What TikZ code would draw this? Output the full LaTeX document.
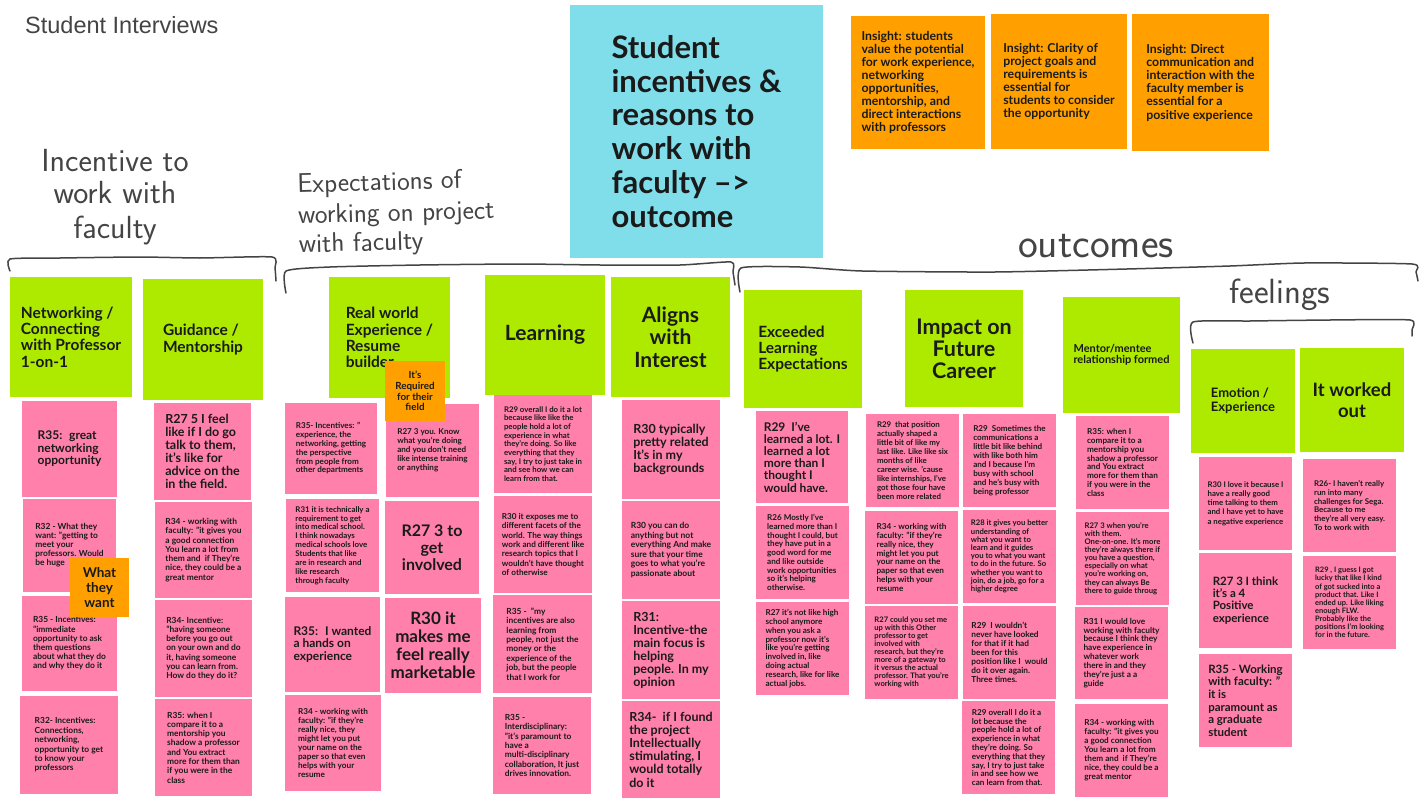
\documentclass[tikz,border=0pt]{standalone}
\usepackage{fontspec}
\setmainfont{Lato}
\newfontfamily\arialf{Liberation Sans}
\usetikzlibrary{calc}
\definecolor{pinkc}{HTML}{FF80AB}
\definecolor{limec}{HTML}{AEEA00}
\definecolor{orangec}{HTML}{FFA000}
\definecolor{cyanc}{HTML}{80DEEA}
\definecolor{inkc}{HTML}{1A1A1A}
\definecolor{handc}{HTML}{444444}
\newcommand\fz[2]{\fontsize{#1}{#2}\selectfont\bfseries}
\newcommand\hw[1]{\fontsize{#1}{#1}\selectfont\sffamily}
% \card{style}{name}{corner1}{corner2}{font}{text}
\newcommand\card[6]{%
  \path let \p1=(#3), \p2=(#4) in
    node[#1, font=#5, minimum width={\x2-\x1}, minimum height={\y1-\y2}] (#2) at ($(#3)!0.5!(#4)$) {#6};}
\begin{document}
\begin{tikzpicture}[x=1pt,y=-1pt,
  cardbox/.style={inner sep=0pt, align=left, text=inkc, anchor=center},
  pk/.style={cardbox, fill=pinkc},
  gr/.style={cardbox, fill=limec},
  og/.style={cardbox, fill=orangec},
  cy/.style={cardbox, fill=cyanc},
  ctr/.style={align=center},
  bracket/.style={draw=handc, line width=1.5pt, line cap=round, line join=round},
  handtext/.style={text=handc, inner sep=0pt, align=center}]
\useasboundingbox (0,0) rectangle (1422,800);
\fill[white] (0,0) rectangle (1422,800);

% ---------- page title ----------
\node[anchor=base west, inner sep=0pt, text=handc, font=\arialf\fontsize{23.5}{25}\selectfont] (pagetitle) at (25,34) {Student Interviews};

% ---------- central title ----------
\card{cy}{title}{570,5}{823,258}{\fz{31}{33.8}}{Student\\incentives \&\\reasons to\\work with\\faculty –>\\outcome}

% ---------- insights ----------
\card{og}{ins1}{851,16}{985,149}{\fz{12.3}{12.9}}{Insight: students\\value the potential\\for work experience,\\networking\\opportunities,\\mentorship, and\\direct interactions\\with professors}
\card{og}{ins2}{991,14}{1127,149}{\fz{12.3}{13}}{Insight: Clarity of\\project goals and\\requirements is\\essential for\\students to consider\\the opportunity}
\card{og}{ins3}{1132,14}{1269,151}{\fz{12.3}{13.2}}{Insight: Direct\\communication and\\interaction with the\\faculty member is\\essential for a\\positive experience}

% ---------- hand-written labels ----------
\node[handtext, font=\hw{32}] (lab1) at (115,197) {Incentive to\\work with\\[3pt]faculty};
\node[handtext, align=left, font=\hw{27}, rotate=1.5, anchor=west] (lab2) at (298,216) {Expectations of\\[4pt]working on project\\[2pt]with faculty};
\node[handtext, font=\hw{42}, anchor=base] (lab3) at (1096,257) {outcomes};
\node[handtext, font=\hw{35}, anchor=base] (lab4) at (1280,303) {feelings};

% ---------- brackets ----------
\draw[bracket] plot[smooth, tension=0.35] coordinates {(10,271) (10,259) (60,258) (140,257) (200,258) (272,257) (275,268) (276,281)};
\draw[bracket] plot[smooth, tension=0.35] coordinates {(286,293) (286,271) (330,267) (420,265) (520,264) (600,265) (680,265) (731,262) (733,272) (735,285)};
\draw[bracket] plot[smooth, tension=0.35] coordinates {(740,292) (741,268) (800,267) (862,271) (995,272) (1127,269) (1230,266) (1304,263) (1412,264) (1416,272) (1418,281)};
\draw[bracket] plot[smooth, tension=0.35] coordinates {(1193,343) (1193,322) (1250,321) (1330,320) (1410,320) (1412,330) (1412,336)};

% ---------- green headers ----------
\card{gr}{h1}{10,277}{132,397}{\fz{15.5}{16.3}}{Networking /\\Connecting\\with Professor\\1-on-1}
\card{gr}{h2}{143,279}{263,400}{\fz{15.5}{16.3}}{Guidance /\\Mentorship}
\card{gr}{h3}{329,277}{450,398}{\fz{15.5}{16.3}}{Real world\\Experience /\\Resume\\builder}
\card{gr,ctr}{h4}{485,275}{605,395}{\fz{21}{22}}{Learning}
\card{gr,ctr}{h5}{611,277}{730,397}{\fz{21}{22.5}}{Aligns\\with\\Interest}
\card{gr}{h6}{744,290}{862,408}{\fz{15.5}{16.3}}{Exceeded\\Learning\\Expectations}
\card{gr,ctr}{h7}{905,290}{1023,407}{\fz{21.5}{22}}{Impact on\\Future\\Career}
\card{gr}{h8}{1063,297}{1180,413}{\fz{11}{11.5}}{Mentor/mentee\\relationship formed}
\card{gr}{h9}{1191,349}{1295,453}{\fz{13}{14.5}}{Emotion /\\Experience}
\card{gr,ctr}{h10}{1300,348}{1404,452}{\fz{18.5}{20.5}}{It worked\\out}

% ---------- column 1 ----------
\card{pk}{c1a}{22,401}{117,497}{\fz{12}{12.5}}{R35:~ great\\networking\\opportunity}
\card{pk}{c1b}{23,499}{116,592}{\fz{8.4}{9}}{R32 - What they\\want: "getting to\\meet your\\professors. Would\\be huge}
\card{pk}{c1c}{22,596}{117,691}{\fz{8.4}{9.2}}{R35 - Incentives:\\"immediate\\opportunity to ask\\them questions\\about what they do\\and why they do it}
\card{pk}{c1d}{20,696}{118,794}{\fz{8.4}{9.4}}{R32- Incentives:\\Connections,\\networking,\\opportunity to get\\to know your\\professors}
\card{og,ctr}{o1}{70,558}{129,617}{\fz{13.5}{15}}{What\\they\\want}

% ---------- column 2 ----------
\card{pk}{c2a}{154,403}{251,500}{\fz{12.5}{13}}{R27 5 I feel\\like if I do go\\talk to them,\\it's like for\\advice on the\\in the field.}
\card{pk}{c2b}{155,502}{252,598}{\fz{8.4}{9.3}}{R34 - working with\\faculty: "it gives you\\a good connection\\You learn a lot from\\them and~ if They're\\nice, they could be a\\great mentor}
\card{pk}{c2c}{155,600}{252,697}{\fz{8.4}{9.3}}{R34- Incentive:\\"having someone\\before you go out\\on your own and do\\it, having someone\\you can learn from.\\How do they do it?}
\card{pk}{c2d}{155,699}{252,796}{\fz{8.4}{9.3}}{R35: when I\\compare it to a\\mentorship you\\shadow a professor\\and You extract\\more for them than\\if you were in the\\class}

% ---------- column 3 ----------
\card{pk}{c3a}{285,403}{377,494}{\fz{8.1}{8.8}}{R35- Incentives: "\\experience, the\\networking, getting\\the perspective\\from people from\\other departments}
\card{pk}{c3b}{286,499}{379,592}{\fz{7.9}{8.9}}{R31 it is technically a\\requirement to get\\into medical school.\\I think nowadays\\medical schools love\\Students that like\\are in research and\\like research\\through faculty}
\card{pk}{c3c}{285,597}{380,692}{\fz{12}{12.5}}{R35:~ I wanted\\a hands on\\experience}
\card{pk}{c3d}{285,695}{381,791}{\fz{8.2}{9.1}}{R34 - working with\\faculty: "if they're\\really nice, they\\might let you put\\your name on the\\paper so that even\\helps with your\\resume}

% ---------- column 4 ----------
\card{pk}{c4a}{386,404}{479,497}{\fz{8.1}{9}}{R27 3 you. Know\\what you're doing\\and you don't need\\like intense training\\or anything}
\card{pk,ctr}{c4b}{385,501}{479,594}{\fz{16}{17}}{R27 3 to\\get\\involved}
\card{pk,ctr}{c4c}{385,598}{481,693}{\fz{17}{18}}{R30 it\\makes me\\feel really\\marketable}
\card{og,ctr}{o2}{385,361}{445,421}{\fz{9.8}{10.7}}{It's\\Required\\for their\\field}

% ---------- column 5 ----------
\card{pk}{c5a}{494,395}{592,493}{\fz{7.8}{8.7}}{R29 overall I do it a lot\\because like like the\\people hold a lot of\\experience in what\\they're doing. So like\\everything that they\\say, I try to just take in\\and see how we can\\learn from that.}
\card{pk}{c5b}{494,496}{592,593}{\fz{8.2}{9.3}}{R30 it exposes me to\\different facets of the\\world. The way things\\work and different like\\research topics that I\\wouldn't have thought\\of otherwise}
\card{pk}{c5c}{493,595}{592,693}{\fz{8.4}{9.4}}{R35 -~ "my\\incentives are also\\learning from\\people, not just the\\money or the\\experience of the\\job, but the people\\that I work for}
\card{pk}{c5d}{493,697}{591,794}{\fz{8.4}{9.3}}{R35 -\\Interdisciplinary:\\"it's paramount to\\have a\\multi-disciplinary\\collaboration, It just\\drives innovation.}

% ---------- column 6 ----------
\card{pk}{c6a}{622,400}{720,499}{\fz{12.5}{13.3}}{R30 typically\\pretty related\\It's in my\\backgrounds}
\card{pk}{c6b}{622,501}{720,599}{\fz{8.5}{9.5}}{R30 you can do\\anything but not\\everything And make\\sure that your time\\goes to what you're\\passionate about}
\card{pk}{c6c}{622,601}{720,699}{\fz{12.5}{13}}{R31:\\Incentive-the\\main focus is\\helping\\people. In my\\opinion}
\card{pk}{c6d}{622,701}{720,798}{\fz{12.5}{13.2}}{R34-~ if I found\\the project\\Intellectually\\stimulating, I\\would totally\\do it}

% ---------- column 7 ----------
\card{pk}{c7a}{756,411}{848,503}{\fz{12}{12.2}}{R29~ I've\\learned a lot. I\\learned a lot\\more than I\\thought I\\would have.}
\card{pk}{c7b}{756,506}{849,599}{\fz{8.1}{8.75}}{R26 Mostly I've\\learned more than I\\thought I could, but\\they have put in a\\good word for me\\and like outside\\work opportunities\\so it's helping\\otherwise.}
\card{pk}{c7c}{756,602}{849,695}{\fz{8.1}{8.9}}{R27 it's not like high\\school anymore\\when you ask a\\professor now it's\\like you're getting\\involved in, like\\doing actual\\research, like for like\\actual jobs.}

% ---------- column 8 ----------
\card{pk}{c8a}{866,414}{959,507}{\fz{7.9}{9}}{R29~ that position\\actually shaped a\\little bit of like my\\last like. Like like six\\months of like\\career wise. 'cause\\like internships, I've\\got those four have\\been more related}
\card{pk}{c8b}{865,511}{958,604}{\fz{8.2}{8.8}}{R34 - working with\\faculty: "if they're\\really nice, they\\might let you put\\your name on the\\paper so that even\\helps with your\\resume}
\card{pk}{c8c}{865,606}{958,699}{\fz{7.6}{8}}{R27 could you set me\\up with this Other\\professor to get\\involved with\\research, but they're\\more of a gateway to\\it versus the actual\\professor. That you're\\working with}

% ---------- column 9 ----------
\card{pk}{c9a}{963,414}{1056,507}{\fz{8.1}{9}}{R29~ Sometimes the\\communications a\\little bit like behind\\with like both him\\and I because I'm\\busy with school\\and he's busy with\\being professor}
\card{pk}{c9b}{963,510}{1056,603}{\fz{7.7}{8.2}}{R28 it gives you better\\understanding of\\what you want to\\learn and it guides\\you to what you want\\to do in the future. So\\whether you want to\\join, do a job, go for a\\higher degree}
\card{pk}{c9c}{963,606}{1056,699}{\fz{8.3}{9}}{R29~ I wouldn't\\never have looked\\for that if it had\\been for this\\position like I~ would\\do it over again.\\Three times.}
\card{pk}{c9d}{962,701}{1055,794}{\fz{8.1}{8.8}}{R29 overall I do it a\\lot because the\\people hold a lot of\\experience in what\\they're doing. So\\everything that they\\say, I try to just take\\in and see how we\\can learn from that.}

% ---------- column 10 ----------
\card{pk}{c10a}{1076,416}{1169,509}{\fz{8.2}{8.8}}{R35: when I\\compare it to a\\mentorship you\\shadow a professor\\and You extract\\more for them than\\if you were in the\\class}
\card{pk}{c10b}{1076,512}{1169,605}{\fz{7.7}{8.1}}{R27 3 when you're\\with them.\\One-on-one. It's more\\they're always there if\\you have a question,\\especially on what\\you're working on,\\they can always Be\\there to guide throug}
\card{pk}{c10c}{1075,607}{1168,699}{\fz{8.3}{8.9}}{R31 I would love\\working with faculty\\because I think they\\have experience in\\whatever work\\there in and they\\they're just a a\\guide}
\card{pk}{c10d}{1075,704}{1168,797}{\fz{8.2}{9}}{R34 - working with\\faculty: "it gives you\\a good connection\\You learn a lot from\\them and~ if They're\\nice, they could be a\\great mentor}

% ---------- column 11 ----------
\card{pk}{c11a}{1199,457}{1292,550}{\fz{7.8}{9.2}}{R30 I love it because I\\have a really good\\time talking to them\\and I have yet to have\\a negative experience}
\card{pk}{c11b}{1199,553}{1292,648}{\fz{11.5}{12.3}}{R27 3 I think\\it's a 4\\Positive\\experience}
\card{pk}{c11c}{1199,654}{1292,747}{\fz{11.5}{12.6}}{R35 - Working\\with faculty: "\\it is\\paramount as\\a graduate\\student}

% ---------- column 12 ----------
\card{pk}{c12a}{1303,459}{1396,552}{\fz{7.9}{8.8}}{R26- I haven't really\\run into many\\challenges for Sega.\\Because to me\\they're all very easy.\\To to work with}
\card{pk}{c12b}{1303,556}{1396,649}{\fz{7.5}{8.1}}{R29 , I guess I got\\lucky that like I kind\\of got sucked into a\\product that. Like I\\ended up. Like liking\\enough FLW.\\Probably like the\\positions I'm looking\\for in the future.}
\end{tikzpicture}
\end{document}
